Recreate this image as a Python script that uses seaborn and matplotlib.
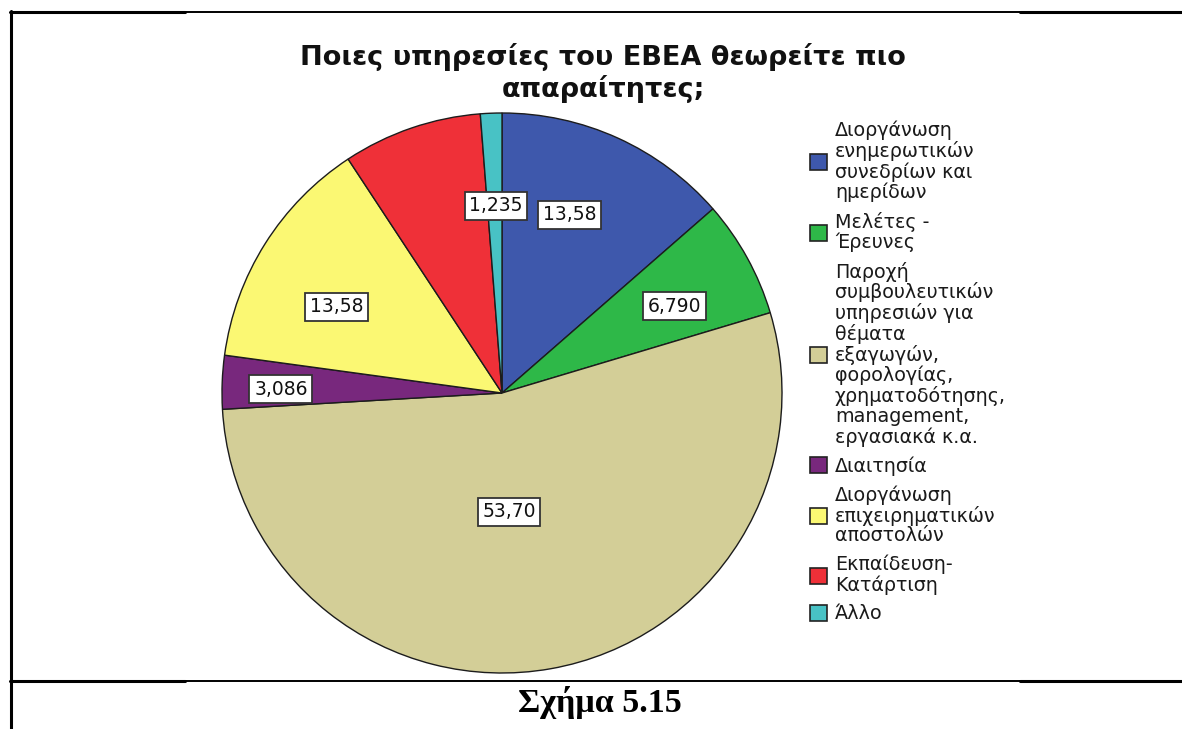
import matplotlib
matplotlib.use("Agg")
import matplotlib.pyplot as plt
from matplotlib.lines import Line2D
from matplotlib.patches import Patch
import numpy as np
import seaborn as sns

# ---- data ----
categories = [
    "Διοργάνωση\nενημερωτικών\nσυνεδρίων και\nημερίδων",
    "Μελέτες -\nΈρευνες",
    "Παροχή\nσυμβουλευτικών\nυπηρεσιών για\nθέματα\nεξαγωγών,\nφορολογίας,\nχρηματοδότησης,\nmanagement,\nεργασιακά κ.α.",
    "Διαιτησία",
    "Διοργάνωση\nεπιχειρηματικών\nαποστολών",
    "Εκπαίδευση-\nΚατάρτιση",
    "Άλλο",
]
percentages = [13.58, 6.790, 53.70, 3.086, 13.58, 8.025, 1.235]
value_labels = ["13,58", "6,790", "53,70", "3,086", "13,58", "", "1,235"]
title_lines = ["Ποιες υπηρεσίες του ΕΒΕΑ θεωρείτε πιο", "απαραίτητες;"]
caption = "Σχήμα 5.15"

# ---- style ----
colors = ["#3E58AC", "#2EB848", "#D3CE97", "#78287D", "#FBF873", "#EF3038", "#48C2C5"]
label_angle_shift = [3.7, -2.1, -6.6, 1.2, 4.7, 0.0, -0.4]
label_radius = [0.68, 0.689, 0.425, 0.79, 0.665, 0.68, 0.669]

sns.set_theme(style="white")
plt.rcParams["font.family"] = ["DejaVu Sans"]

W, H = 1182, 729
fig = plt.figure(figsize=(W / 100, H / 100), dpi=100)
fig.patch.set_facecolor("white")

cx, cy, R = 502, 393, 280
half = 300
ax = fig.add_axes([(cx - half) / W, (H - cy - half) / H, 2 * half / W, 2 * half / H])
wedges, _ = ax.pie(
    percentages,
    colors=colors,
    startangle=90,
    counterclock=False,
    radius=1.0,
    wedgeprops=dict(edgecolor="#1c1c1c", linewidth=1.0),
)
lim = half / R
ax.set_xlim(-lim, lim)
ax.set_ylim(-lim, lim)
ax.set_axis_off()

for w, lab, sh, rr in zip(wedges, value_labels, label_angle_shift, label_radius):
    if not lab:
        continue
    ang = np.deg2rad((w.theta1 + w.theta2) / 2 + sh)
    ax.text(rr * np.cos(ang), rr * np.sin(ang), lab, ha="center", va="center",
            fontsize=13.5, color="#111111",
            bbox=dict(boxstyle="square,pad=0.25", facecolor="white",
                      edgecolor="#333333", linewidth=1.3))

# legend
handles = [Patch(facecolor=c, edgecolor="#222222", linewidth=1.2) for c in colors]
leg = fig.legend(handles, categories, loc="upper left",
                 bbox_to_anchor=(810 / W, 1 - 121 / H),
                 frameon=False, fontsize=13.8, handlelength=0.9, handleheight=0.9,
                 handletextpad=0.4, labelspacing=0.5, borderpad=0, borderaxespad=0)
for t in leg.get_texts():
    t.set_linespacing(1.055)
    t.set_color("#1a1a1a")

# title
fig.text(603 / W, 1 - 65 / H, title_lines[0], ha="center", va="baseline",
         fontsize=19.5, fontweight="bold", color="#111111")
fig.text(603 / W, 1 - 97 / H, title_lines[1], ha="center", va="baseline",
         fontsize=19.5, fontweight="bold", color="#111111")

# caption
fig.text(600 / W, 1 - 712 / H, caption, ha="center", va="baseline",
         fontsize=24.5, fontweight="bold", family=["Liberation Serif"], color="black")

# frame lines (document table borders)
def hline(y, x0, x1, lw):
    fig.add_artist(Line2D([x0 / W, x1 / W], [1 - y / H, 1 - y / H],
                          transform=fig.transFigure, color="black", linewidth=lw))

def vline(x, y0, y1, lw):
    fig.add_artist(Line2D([x / W, x / W], [1 - y0 / H, 1 - y1 / H],
                          transform=fig.transFigure, color="black", linewidth=lw))

for y in (12, 681):
    hline(y, 10, 185, 2.2)
    hline(y, 185, 1020, 1.4)
    hline(y, 1020, 1182, 2.2)
vline(11.2, 10.5, 729, 2.2)

fig.savefig("out.png", dpi=100, facecolor="white")
